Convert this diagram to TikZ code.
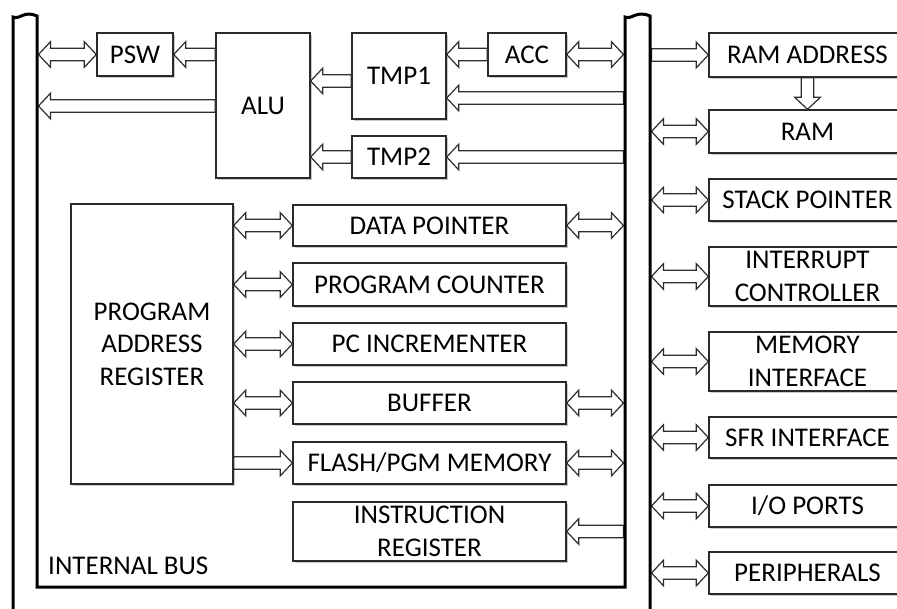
\documentclass[tikz,border=0pt]{standalone}
\usepackage{fontspec}
\setmainfont{Carlito}
\usetikzlibrary{calc,shadows}
\definecolor{boxc}{HTML}{2A2A2A}
\definecolor{arrc}{HTML}{2E2E2E}
\def\aw{6.2pt}
\def\ahw{12.8pt}
\def\ahl{12pt}
% single block arrow from #1 to #2
\newcommand\sarr[2]{%
  \path ($(#2)!\ahl!(#1)$) coordinate (hb);
  \draw[arr] ($(#1)!\aw!90:(#2)$) -- ($(hb)!\aw!90:(#2)$) -- ($(hb)!\ahw!90:(#2)$) -- (#2)
    -- ($(hb)!\ahw!-90:(#2)$) -- ($(hb)!\aw!-90:(#2)$) -- ($(#1)!\aw!-90:(#2)$) -- cycle;}
% double block arrow between #1 and #2
\newcommand\darr[2]{%
  \path ($(#2)!\ahl!(#1)$) coordinate (hb) ($(#1)!\ahl!(#2)$) coordinate (ha);
  \draw[arr] (#1) -- ($(ha)!\ahw!90:(#2)$) -- ($(ha)!\aw!90:(#2)$) -- ($(hb)!\aw!90:(#2)$)
    -- ($(hb)!\ahw!90:(#2)$) -- (#2) -- ($(hb)!\ahw!-90:(#2)$) -- ($(hb)!\aw!-90:(#2)$)
    -- ($(ha)!\aw!-90:(#2)$) -- ($(ha)!\ahw!-90:(#2)$) -- cycle;}
\tikzset{
  box/.style={draw=boxc, line width=1.4pt, fill=white, inner sep=0pt, align=center,
    font=\fontsize{27}{32.5}\selectfont, text=black,
    drop shadow={shadow xshift=1.5pt, shadow yshift=-1.5pt, opacity=0.3, fill=black!70}},
  arr/.style={draw=arrc, fill=white, line width=1.2pt, line join=miter},
  bus/.style={draw=black, line width=3pt, line join=miter},
  lbl/.style={font=\fontsize{27}{32.5}\selectfont, inner sep=0pt, text=black}
}
\begin{document}
\begin{tikzpicture}[x=1pt,y=-1pt]
\useasboundingbox (0,0) rectangle (897,608);
\clip (0,0) rectangle (897,608);
\fill[white] (0,0) rectangle (897,608);

% boxes
\node[box, minimum width=76pt, minimum height=43pt] (psw) at (135,54.5) {PSW};
\node[box, minimum width=94pt, minimum height=145pt] (alu) at (263,105.5) {ALU};
\node[box, minimum width=94pt, minimum height=86pt] (tmp1) at (399,76) {TMP1};
\node[box, minimum width=94pt, minimum height=42pt] (tmp2) at (399,157) {TMP2};
\node[box, minimum width=78pt, minimum height=43pt] (acc) at (527,54.5) {ACC};

\node[box, minimum width=162pt, minimum height=280pt] (par) at (152,344) {PROGRAM\\ADDRESS\\REGISTER};
\node[box, minimum width=273pt, minimum height=41pt] (dp) at (429.5,225.5) {DATA POINTER};
\node[box, minimum width=273pt, minimum height=43pt] (pc) at (429.5,284.5) {PROGRAM COUNTER};
\node[box, minimum width=273pt, minimum height=42pt] (pci) at (429.5,344) {PC INCREMENTER};
\node[box, minimum width=273pt, minimum height=42pt] (buf) at (429.5,403) {BUFFER};
\node[box, minimum width=273pt, minimum height=42pt] (flash) at (429.5,463) {FLASH/PGM MEMORY};
\node[box, minimum width=273pt, minimum height=59pt] (ir) at (429.5,531.5) {INSTRUCTION\\REGISTER};

\node[box, minimum width=197pt, minimum height=44pt] (ramaddr) at (807.5,55) {RAM ADDRESS};
\node[box, minimum width=197pt, minimum height=43pt] (ram) at (807.5,131.5) {RAM};
\node[box, minimum width=197pt, minimum height=42pt] (sp) at (807.5,200) {STACK POINTER};
\node[box, minimum width=197pt, minimum height=59pt] (intc) at (807.5,276.5) {INTERRUPT\\CONTROLLER};
\node[box, minimum width=197pt, minimum height=59pt] (memi) at (807.5,361.5) {MEMORY\\INTERFACE};
\node[box, minimum width=197pt, minimum height=41pt] (sfr) at (807.5,437.5) {SFR INTERFACE};
\node[box, minimum width=197pt, minimum height=42pt] (io) at (807.5,506) {I/O PORTS};
\node[box, minimum width=197pt, minimum height=42pt] (per) at (807.5,573) {PERIPHERALS};

\node[lbl, anchor=west] (ibus) at (48,565.5) {INTERNAL BUS};

% reference coordinates
\coordinate (lb) at (38.5,0);
\coordinate (rb) at (623.5,0);
\coordinate (ro) at (651.5,0);
\coordinate (yalu) at (0,106);
\coordinate (yt1) at (0,81);
\coordinate (ybt1) at (0,98);

% arrows, upper part
\darr{lb |- psw.west}{psw.west}
\sarr{alu.west |- psw.east}{psw.east}
\sarr{alu.west |- yalu}{lb |- yalu}
\sarr{tmp1.west |- yt1}{alu.east |- yt1}
\sarr{tmp2.west}{alu.east |- tmp2.west}
\sarr{acc.west}{tmp1.east |- acc.west}
\darr{acc.east}{rb |- acc.east}
\sarr{rb |- ybt1}{tmp1.east |- ybt1}
\sarr{rb |- tmp2.east}{tmp2.east}

% arrows, program address register
\darr{par.east |- dp.west}{dp.west}
\darr{par.east |- pc.west}{pc.west}
\darr{par.east |- pci.west}{pci.west}
\darr{par.east |- buf.west}{buf.west}
\sarr{par.east |- flash.west}{flash.west}
\darr{dp.east}{rb |- dp.east}
\darr{buf.east}{rb |- buf.east}
\darr{flash.east}{rb |- flash.east}
\sarr{rb |- ir.east}{ir.east}

% arrows, right side
\sarr{ro |- ramaddr.west}{ramaddr.west}
\sarr{ramaddr.south}{ram.north}
\darr{ro |- ram.west}{ram.west}
\darr{ro |- sp.west}{sp.west}
\darr{ro |- intc.west}{intc.west}
\darr{ro |- memi.west}{memi.west}
\darr{ro |- sfr.west}{sfr.west}
\darr{ro |- io.west}{io.west}
\darr{ro |- per.west}{per.west}

% internal bus outline
\draw[bus] (13,610) -- (13,17) .. controls (20,20) and (24,10) .. (37,16) -- (37,587) -- (625,587)
  -- (625,17) .. controls (632,20) and (636,10) .. (650,16) -- (650,610);
\end{tikzpicture}
\end{document}
